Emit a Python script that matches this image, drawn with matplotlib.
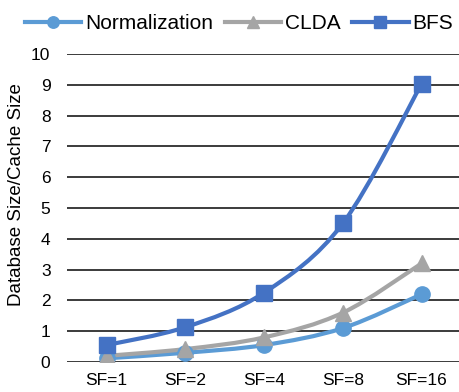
import matplotlib.pyplot as plt
from matplotlib.path import Path
from matplotlib.patches import PathPatch
from matplotlib.lines import Line2D

plt.rcParams['font.family'] = ['Liberation Sans', 'DejaVu Sans']

categories = ["SF=1", "SF=2", "SF=4", "SF=8", "SF=16"]
normalization = [0.12, 0.30, 0.55, 1.10, 2.20]
clda = [0.20, 0.42, 0.80, 1.60, 3.20]
bfs = [0.55, 1.13, 2.25, 4.50, 9.03]

series = [
    ("Normalization", normalization, "#5B9BD5", "o", 11),
    ("CLDA", clda, "#A5A5A5", "^", 12),
    ("BFS", bfs, "#4472C4", "s", 11.5),
]


def smooth_path(xs, ys):
    # Catmull-Rom style bezier through every point (like smoothed office lines)
    pts = list(zip(xs, ys))
    verts = [pts[0]]
    codes = [Path.MOVETO]
    n = len(pts)
    for i in range(n - 1):
        p0 = pts[i - 1] if i > 0 else pts[i]
        p1 = pts[i]
        p2 = pts[i + 1]
        p3 = pts[i + 2] if i + 2 < n else pts[i + 1]
        c1 = (p1[0] + (p2[0] - p0[0]) / 6, p1[1] + (p2[1] - p0[1]) / 6)
        c2 = (p2[0] - (p3[0] - p1[0]) / 6, p2[1] - (p3[1] - p1[1]) / 6)
        verts += [c1, c2, p2]
        codes += [Path.CURVE4] * 3
    return Path(verts, codes)


fig = plt.figure(figsize=(4.6, 3.92), dpi=100)
ax = fig.add_axes([0.146, 0.0765, 0.856, 0.7855])

x = list(range(len(categories)))
handles = []
for name, vals, color, marker, ms in series:
    ax.add_patch(PathPatch(smooth_path(x, vals), facecolor="none",
                           edgecolor=color, linewidth=3, zorder=3,
                           capstyle="round"))
    ax.plot(x, vals, linestyle="none", marker=marker, markersize=ms,
            color=color, zorder=4)
    handles.append(Line2D([], [], color=color, linewidth=3,
                          marker=marker, markersize=ms * 0.75, label=name))

ax.set_xlim(-0.5, len(categories) - 0.5)
ax.set_ylim(0, 10)
ax.set_yticks(range(0, 11))
ax.set_xticks(x)
ax.set_xticklabels(categories)
ax.tick_params(axis="both", length=0, labelsize=12.5, colors="black")
ax.tick_params(axis="y", pad=12)
ax.tick_params(axis="x", pad=8)
ax.grid(axis="y", color="#1a1a1a", linewidth=1.2)
ax.set_axisbelow(True)
for s in ax.spines.values():
    s.set_visible(False)

ax.set_ylabel("Database Size/Cache Size", fontsize=13.5)
ax.yaxis.set_label_coords(-0.107, 0.545)

fig.legend(handles=handles, loc="center", bbox_to_anchor=(0.52, 0.94),
           ncol=3, frameon=False, fontsize=15, handlelength=2.7,
           handletextpad=0.2, columnspacing=0.55, borderpad=0)

fig.savefig("out.png", dpi=100)
